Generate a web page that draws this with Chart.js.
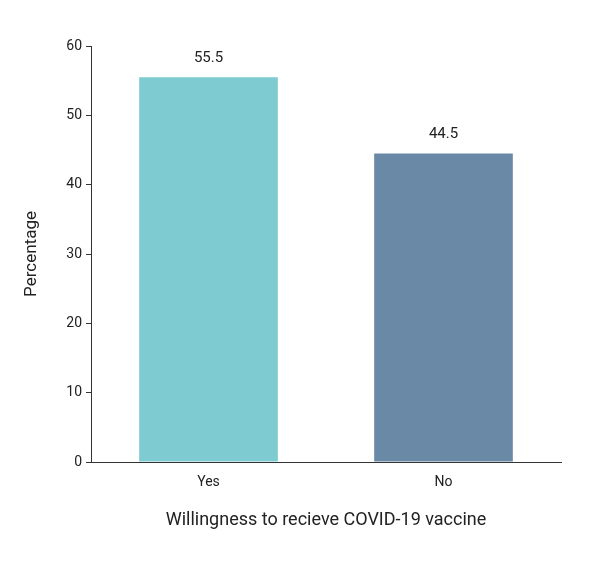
<!DOCTYPE html>
<html>
<head>
<meta charset="utf-8">
<script src="https://cdn.jsdelivr.net/npm/chart.js@4"></script>
<style>
  html, body { margin: 0; padding: 0; background: #fff; }
  #wrap { width: 601px; height: 561px; }
</style>
</head>
<body>
<div id="wrap"><canvas id="chart" width="601" height="561"></canvas></div>
<script>
const categories = ['Yes', 'No'];
const percentages = [55.5, 44.5];
const barColors = ['#7ecbd1', '#6a89a6'];
const yTicks = [0, 10, 20, 30, 40, 50, 60];

// value labels above bars
const valueLabels = {
    id: 'valueLabels',
    afterDatasetsDraw(chart) {
        const { ctx } = chart;
        const meta = chart.getDatasetMeta(0);
        ctx.save();
        ctx.font = '15px Roboto, Arial';
        ctx.fillStyle = '#222';
        ctx.textAlign = 'center';
        ctx.textBaseline = 'middle';
        meta.data.forEach((bar, i) => {
            ctx.fillText(percentages[i].toFixed(1), bar.x, bar.y - 19);
        });
        ctx.restore();
    }
};

new Chart(document.getElementById('chart'), {
    type: 'bar',
    data: {
        labels: categories,
        datasets: [{
            data: percentages,
            backgroundColor: barColors,
            borderWidth: 0,
            barPercentage: 0.59,
            categoryPercentage: 1
        }]
    },
    options: {
        responsive: false,
        animation: false,
        layout: { padding: { left: 18, right: 40, top: 46, bottom: 26 } },
        plugins: { legend: { display: false }, tooltip: { enabled: false } },
        scales: {
            x: {
                afterFit: (s) => { s.height = 561 - 462 - 26; },
                grid: { display: false },
                border: { display: true, color: '#333', width: 1 },
                ticks: { color: '#222', font: { family: 'Roboto, Arial', size: 14 }, padding: 4 },
                title: {
                    display: true,
                    text: 'Willingness to recieve COVID-19 vaccine',
                    color: '#222',
                    font: { family: 'Roboto, Arial', size: 18 }
                }
            },
            y: {
                min: 0,
                max: 60,
                afterFit: (s) => { s.width = 91 - 18; },
                afterBuildTicks: (s) => { s.ticks = yTicks.map(v => ({ value: v })); },
                grid: { drawOnChartArea: false, drawTicks: true, tickLength: 5, color: '#333' },
                border: { display: true, color: '#333', width: 1 },
                ticks: { color: '#222', font: { family: 'Roboto, Arial', size: 14 }, padding: 4 },
                title: {
                    display: true,
                    text: 'Percentage',
                    color: '#222',
                    font: { family: 'Roboto, Arial', size: 17 }
                }
            }
        }
    },
    plugins: [valueLabels]
});
</script>
</body>
</html>
